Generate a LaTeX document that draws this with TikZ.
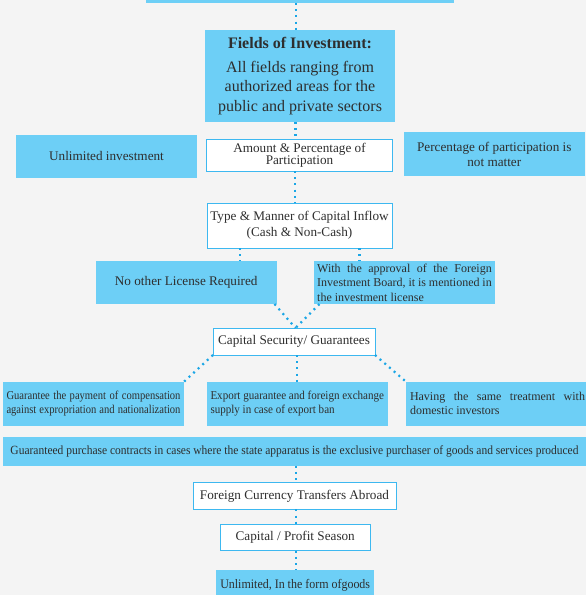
\documentclass[tikz,border=0pt]{standalone}
\usepackage{fontspec}
\setmainfont{Liberation Serif}
\newfontfamily\condA[FakeStretch=0.88]{Liberation Serif}
\newfontfamily\condB[FakeStretch=0.92]{Liberation Serif}
\definecolor{bgc}{HTML}{F4F4F4}
\definecolor{boxblue}{HTML}{6DCFF6}
\definecolor{bord}{HTML}{3DB8F0}
\definecolor{dotc}{HTML}{1AA6E6}
\definecolor{txt}{HTML}{2E2E2E}
\begin{document}
\begin{tikzpicture}[x=1pt,y=-1pt,
  box/.style={inner sep=0pt, outer sep=0pt, text=txt, align=center,
    font=\fontsize{13.2}{15}\selectfont},
  bluebox/.style={box, fill=boxblue},
  whitebox/.style={box, fill=white, draw=bord, line width=0.9pt},
  conn/.style={draw=dotc, line width=2.2pt, dash pattern=on 2pt off 4.2pt}]
\useasboundingbox (0,0) rectangle (586,595);
\fill[bgc] (0,0) rectangle (586,595);

\node[bluebox, minimum width=308pt, minimum height=12pt] (top) at (300,-3) {};
\node[bluebox, minimum width=190pt, minimum height=92pt,
  font=\fontsize{16}{19.5}\selectfont] (fields) at (300,76)
  {\textbf{Fields of Investment:}\\[3.9pt] All fields ranging from\\ authorized areas for the\\ public and private sectors};
\node[whitebox, minimum width=186pt, minimum height=32pt,
  font=\fontsize{13.2}{12.3}\selectfont] (amount) at (299.5,155)
  {Amount \& Percentage of\\ Participation};
\node[bluebox, minimum width=181pt, minimum height=43pt] (unl) at (106.5,156.5)
  {\raisebox{2pt}{Unlimited investment}};
\node[bluebox, minimum width=181pt, minimum height=44pt,
  font=\fontsize{13.2}{15}\selectfont] (perc) at (494.3,154)
  {Percentage of participation is\\ not matter};
\node[whitebox, minimum width=185pt, minimum height=45pt,
  font=\fontsize{13.2}{16.5}\selectfont] (type) at (299.5,225.5)
  {Type \& Manner of Capital Inflow\\ (Cash \& Non-Cash)};
\node[bluebox, minimum width=180.5pt, minimum height=43pt] (nolic) at (186.25,282.5)
  {No other License Required};
\node[bluebox, minimum width=181pt, minimum height=43pt,
  font=\fontsize{12}{14.5}\selectfont] (withb) at (404.5,282.5)
  {\makebox[174.6pt][s]{With the approval of the Foreign}\\
   \makebox[174.6pt][s]{Investment Board, it is mentioned in}\\
   \makebox[174.6pt][l]{the investment license}};
\node[whitebox, minimum width=162pt, minimum height=27pt] (capsec) at (294,341.5)
  {Capital Security/ Guarantees};
\node[bluebox, minimum width=181pt, minimum height=44pt,
  font=\condA\fontsize{12}{14}\selectfont] (g1) at (93.5,403.7)
  {\makebox[174pt][s]{Guarantee the payment of compensation}\\
   \makebox[174pt][s]{against expropriation and nationalization}};
\node[bluebox, minimum width=181pt, minimum height=44pt,
  font=\condB\fontsize{12}{14}\selectfont] (g2) at (297.5,403.7)
  {\makebox[174pt][l]{Export guarantee and foreign exchange}\\
   \makebox[174pt][l]{supply in case of export ban}};
\node[bluebox, minimum width=180pt, minimum height=44pt,
  font=\fontsize{12}{14}\selectfont] (g3) at (496,403.7)
  {\hspace*{3pt}\makebox[175pt][s]{Having the same treatment with}\\
   \hspace*{3pt}\makebox[175pt][l]{domestic investors}};
\node[bluebox, minimum width=583pt, minimum height=29pt,
  font=\condB\fontsize{12.5}{14}\selectfont] (gp) at (294.5,451.2)
  {Guaranteed purchase contracts in cases where the state apparatus is the exclusive purchaser of goods and services produced};
\node[whitebox, minimum width=203pt, minimum height=26.6pt] (fc) at (294.5,496)
  {Foreign Currency Transfers Abroad};
\node[whitebox, minimum width=149.5pt, minimum height=26.4pt] (cp) at (295.25,537.5)
  {Capital / Profit Season};
\node[bluebox, minimum width=158.4pt, minimum height=30pt,
  font=\condB\fontsize{13}{15}\selectfont] (ug) at (295.2,585)
  {\raisebox{2pt}{Unlimited, In the form ofgoods}};

\draw[conn] (top.south -| 296.3,0) -- (fields.north -| 296.3,0);
\draw[conn] (fields.south -| 295.5,0) -- (amount.north -| 295.5,0);
\draw[conn] (amount.south -| 295.2,0) -- (type.north -| 295.2,0);
\draw[conn] (type.south -| 240.3,0) -- (nolic.north -| 240.3,0);
\draw[conn] (type.south -| 359.5,0) -- (withb.north -| 359.5,0);
\draw[conn] ([xshift=-2pt]nolic.south east) -- ([xshift=1.5pt]capsec.north);
\draw[conn] ([xshift=5.5pt]withb.south west) -- ([xshift=1.5pt]capsec.north);
\draw[conn] (capsec.south west) -- (g1.north east);
\draw[conn] (capsec.south -| 297,0) -- (g2.north -| 297,0);
\draw[conn] (capsec.south east) -- (g3.north west);
\draw[conn] (gp.south -| 296,0) -- (fc.north -| 296,0);
\draw[conn] (fc.south -| 296,0) -- (cp.north -| 296,0);
\draw[conn] (cp.south -| 296,0) -- (ug.north -| 296,0);
\end{tikzpicture}
\end{document}
